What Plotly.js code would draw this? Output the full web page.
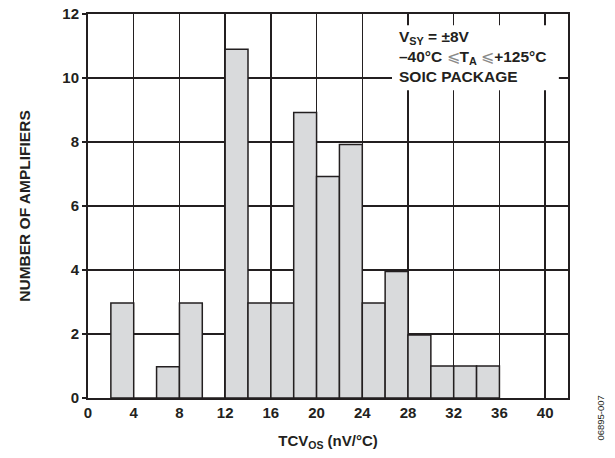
<!DOCTYPE html>
<html>
<head>
<meta charset="utf-8">
<script src="https://cdn.plot.ly/plotly-3.0.1.min.js"></script>
<style>html,body{margin:0;padding:0;background:#fff;}#chart{width:615px;height:458px;}</style>
</head>
<body>
<div id="chart"></div>
<script>
// Histogram bin centers (nV/°C), bin width 2
var binCenters = [3, 5, 7, 9, 11, 13, 15, 17, 19, 21, 23, 25, 27, 29, 31, 33, 35];
var amplifierCounts = [2.97, 0, 0.98, 2.97, 0, 10.9, 2.97, 2.97, 8.92, 6.92, 7.92, 2.97, 3.95, 1.97, 1, 1, 1];
var xTickVals = [0, 4, 8, 12, 16, 20, 24, 28, 32, 36, 40];
var yTickVals = [0, 2, 4, 6, 8, 10, 12];

var ink = '#231f20';
var trace = {
  type: 'bar',
  x: binCenters,
  y: amplifierCounts,
  width: 2,
  marker: {color: '#d9dadc', line: {color: ink, width: 1.5}},
  hoverinfo: 'x+y'
};

var leq = '<span style="font-weight:normal;color:#8a8a8a">⩽</span>';

var layout = {
  width: 615, height: 458,
  margin: {l: 88, r: 47, t: 14, b: 60},
  paper_bgcolor: '#fff', plot_bgcolor: '#fff',
  showlegend: false,
  font: {family: 'Liberation Sans, Arial, sans-serif', color: ink},
  xaxis: {
    range: [0, 42], tickvals: xTickVals, ticktext: xTickVals.map(String),
    showgrid: true, gridcolor: ink, gridwidth: 1.3,
    zeroline: false, showline: true, linecolor: ink, linewidth: 2, mirror: true,
    ticks: '', tickfont: {size: 15, weight: 'bold', color: ink},
    title: {text: 'TCV<sub>OS</sub> (nV/°C)', font: {size: 15, weight: 'bold', color: ink}, standoff: 15}
  },
  yaxis: {
    range: [0, 12], tickvals: yTickVals, ticktext: yTickVals.map(String),
    showgrid: true, gridcolor: ink, gridwidth: 1.3,
    zeroline: false, showline: true, linecolor: ink, linewidth: 2, mirror: true,
    ticks: 'outside', ticklen: 4, tickcolor: ink, tickwidth: 1.3,
    tickfont: {size: 15, weight: 'bold', color: ink},
    title: {text: 'NUMBER OF AMPLIFIERS', font: {size: 15.5, weight: 'bold', color: ink}, standoff: 28}
  },
  shapes: [{
    type: 'rect', xref: 'x', yref: 'y', layer: 'above',
    x0: 26.6, x1: 41.2, y0: 9.62, y1: 11.65,
    fillcolor: '#fff', line: {width: 0}
  }],
  annotations: [
    {
      xref: 'x', yref: 'y', x: 27.0, y: 11.62, xanchor: 'left', yanchor: 'top',
      align: 'left', showarrow: false,
      text: 'V<sub>SY</sub> = ±8V<br>–40°C ' + leq + 'T<sub>A</sub> ' + leq + '+125°C<br>SOIC PACKAGE',
      font: {size: 15.5, weight: 'bold', color: ink}
    },
    {
      xref: 'paper', yref: 'paper', x: 1.068, y: -0.052, xanchor: 'center', yanchor: 'middle',
      showarrow: false, textangle: -90, text: '06895-007',
      font: {size: 9.5, color: ink}
    }
  ]
};

Plotly.newPlot('chart', [trace], layout, {displayModeBar: false, staticPlot: true});
</script>
</body>
</html>
